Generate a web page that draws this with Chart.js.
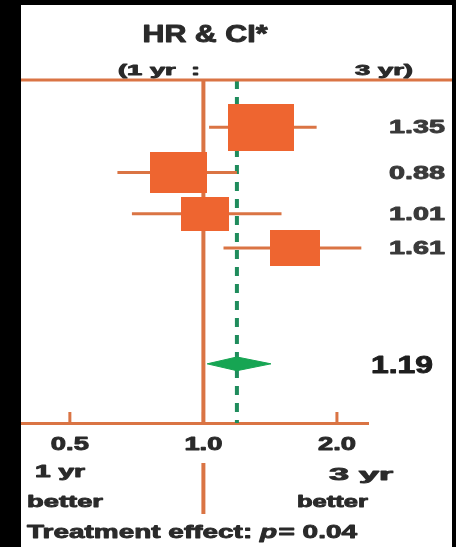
<!DOCTYPE html>
<html>
<head>
<meta charset="utf-8">
<style>
  html, body { margin: 0; padding: 0; background: #000; }
  canvas { display: block; }
</style>
<script src="https://cdn.jsdelivr.net/npm/chart.js@4/dist/chart.umd.min.js"></script>
</head>
<body>
<canvas id="forest" width="456" height="547"></canvas>
<script>
// Hazard ratios, 1 yr vs 3 yr, one row per subgroup
const hr     = [1.35, 0.88, 1.01, 1.61];
const ciLow  = [1.03, 0.64, 0.69, 1.11];
const ciHigh = [1.80, 1.19, 1.50, 2.27];
const weight = [1.00, 0.87, 0.73, 0.77];

// Pooled estimate
const pooledHr   = 1.19;
const pooledLow  = 1.02;
const pooledHigh = 1.42;

// X axis (log scale) ticks
const xTicks = [0.5, 1.0, 2.0];
const xTickLabels = ['0.5', '1.0', '2.0'];

// Vertical slots of the rows on the y scale (0 = top line, 8 = axis)
const rowSlot = [1.1, 2.16, 3.12, 3.92];
const pooledSlot = 6.62;
const diamondHalf = 0.16;

const LINE = '#DA7444';
const BOX = '#EE6530';
const GREEN_DASH = '#1F8C5C';
const GREEN = '#16A553';
const TEXT = '#2a2a2a';
const FONT = '"Liberation Sans", Arial, sans-serif';

// Box markers: area follows the study weight; the panel is drawn wide, so boxes are wider than tall
function boxImage(w) {
  const h = Math.round(47 * w);
  const c = document.createElement('canvas');
  c.width = Math.round(h * 1.4);
  c.height = h;
  const g = c.getContext('2d');
  g.fillStyle = BOX;
  g.fillRect(0, 0, c.width, c.height);
  return c;
}
const boxImages = weight.map(boxImage);

const whiskers = hr.map((v, i) => ({
  data: [{ x: ciLow[i], y: rowSlot[i] }, { x: ciHigh[i], y: rowSlot[i] }],
  borderColor: LINE,
  borderWidth: 3,
  pointRadius: 0,
  order: 2
}));

const datasets = [
  {
    data: hr.map((v, i) => ({ x: v, y: rowSlot[i] })),
    showLine: false,
    pointStyle: boxImages,
    pointRadius: 5,
    order: 0
  },
  {
    data: [
      { x: pooledLow, y: pooledSlot },
      { x: pooledHr, y: pooledSlot - diamondHalf },
      { x: pooledHigh, y: pooledSlot }
    ],
    borderColor: GREEN,
    borderWidth: 1,
    backgroundColor: GREEN,
    fill: '+1',
    pointRadius: 0,
    order: 1
  },
  {
    data: [
      { x: pooledLow, y: pooledSlot },
      { x: pooledHr, y: pooledSlot + diamondHalf },
      { x: pooledHigh, y: pooledSlot }
    ],
    borderColor: GREEN,
    borderWidth: 1,
    pointRadius: 0,
    order: 1
  },
  ...whiskers,
  {
    data: [{ x: 1, y: 0 }, { x: 1, y: 8 }],
    borderColor: LINE,
    borderWidth: 4,
    pointRadius: 0,
    order: 3
  },
  {
    data: [{ x: pooledHr, y: 0 }, { x: pooledHr, y: 8 }],
    borderColor: GREEN_DASH,
    borderWidth: 4,
    borderDash: [9, 8],
    pointRadius: 0,
    order: 4
  }
];

// Draws heavy text stretched horizontally to a given width
function wideText(ctx, runs, x, y, width, align, color) {
  ctx.save();
  let total = 0;
  runs.forEach(r => { ctx.font = r.font; r.w = ctx.measureText(r.text).width; total += r.w + (r.gap || 0); });
  const s = width / total;
  const left = align === 'center' ? x - width / 2 : align === 'right' ? x - width : x;
  ctx.translate(left, y);
  ctx.scale(s, 1);
  ctx.fillStyle = color || TEXT;
  ctx.strokeStyle = color || TEXT;
  ctx.lineWidth = 0.9;
  ctx.lineJoin = 'round';
  ctx.textAlign = 'left';
  ctx.textBaseline = 'alphabetic';
  let cx = 0;
  runs.forEach(r => {
    ctx.font = r.font;
    ctx.fillText(r.text, cx, 0);
    ctx.strokeText(r.text, cx, 0);
    cx += r.w + (r.gap || 0);
  });
  ctx.restore();
}
const bold = px => 'bold ' + px + 'px ' + FONT;

const panel = {
  id: 'panel',
  beforeDraw(chart) {
    const ctx = chart.ctx;
    ctx.save();
    ctx.fillStyle = '#000';
    ctx.fillRect(0, 0, chart.width, chart.height);
    ctx.fillStyle = '#fff';
    ctx.fillRect(21, 5, 431, chart.height - 5);
    ctx.restore();
  },
  afterDraw(chart) {
    const ctx = chart.ctx;
    const xs = chart.scales.x, ys = chart.scales.y;
    const area = chart.chartArea;
    ctx.save();
    ctx.strokeStyle = LINE;
    // header rule
    ctx.lineWidth = 3;
    ctx.beginPath();
    ctx.moveTo(21, area.top);
    ctx.lineTo(452, area.top);
    ctx.stroke();
    // tick marks standing on the axis
    xTicks.forEach(t => {
      const px = xs.getPixelForValue(t);
      ctx.beginPath();
      ctx.moveTo(px, area.bottom - 11);
      ctx.lineTo(px, area.bottom);
      ctx.stroke();
    });
    // divider between the "better" captions
    const one = xs.getPixelForValue(1);
    ctx.lineWidth = 4;
    ctx.beginPath();
    ctx.moveTo(one, 463);
    ctx.lineTo(one, 514);
    ctx.stroke();
    ctx.restore();

    // header
    wideText(ctx, [{ text: 'HR & CI*', font: bold(23) }], 205, 42, 125, 'center');
    wideText(ctx, [{ text: '(1 yr  :', font: bold(15) }], 118, 75, 82, 'left');
    wideText(ctx, [{ text: '3 yr)', font: bold(15) }], 413, 75, 58, 'right');

    // axis tick labels
    xTicks.forEach((t, i) => {
      wideText(ctx, [{ text: xTickLabels[i], font: bold(18) }], xs.getPixelForValue(t), 450, 38, 'center');
    });

    // estimates at the right
    hr.forEach((v, i) => {
      wideText(ctx, [{ text: v.toFixed(2), font: bold(19) }], 445, ys.getPixelForValue(rowSlot[i]) + 6, 56, 'right', '#3a3a3a');
    });
    wideText(ctx, [{ text: pooledHr.toFixed(2), font: bold(23) }], 433, ys.getPixelForValue(pooledSlot) + 9, 62, 'right', '#1e1e1e');

    // captions under the axis
    wideText(ctx, [{ text: '1 yr', font: bold(16) }], 35, 477, 50, 'left');
    wideText(ctx, [{ text: 'better', font: bold(17) }], 27, 507, 76, 'left');
    wideText(ctx, [{ text: '3 yr', font: bold(16) }], 393, 480, 64, 'right');
    wideText(ctx, [{ text: 'better', font: bold(17) }], 368, 507, 71, 'right');
    wideText(ctx, [
      { text: 'Treatment effect: ', font: bold(19) },
      { text: 'p', font: 'italic bold 19px ' + FONT, gap: 1 },
      { text: '= 0.04', font: bold(19) }
    ], 27, 538, 330, 'left');
  }
};

new Chart(document.getElementById('forest'), {
  type: 'line',
  data: { datasets },
  options: {
    responsive: false,
    animation: false,
    events: [],
    layout: { padding: { left: 22, right: 88, top: 80, bottom: 124 } },
    scales: {
      x: {
        type: 'logarithmic',
        min: 0.39,
        max: 2.35,
        ticks: { display: false },
        grid: { display: false, drawTicks: false },
        border: { display: true, color: LINE, width: 3 }
      },
      y: {
        type: 'linear',
        reverse: true,
        min: 0,
        max: 8,
        display: false
      }
    },
    plugins: {
      legend: { display: false },
      tooltip: { enabled: false }
    }
  },
  plugins: [panel]
});
</script>
</body>
</html>
